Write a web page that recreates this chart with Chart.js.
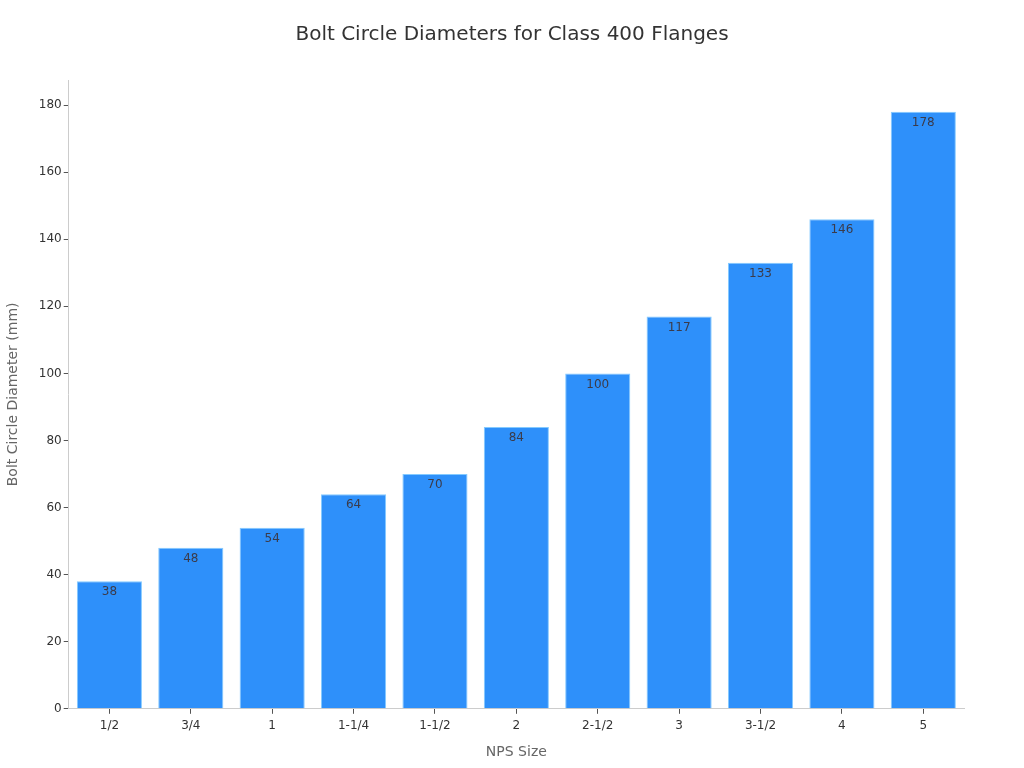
<!DOCTYPE html>
<html>
<head>
<meta charset="utf-8">
<script src="https://cdn.jsdelivr.net/npm/chart.js@4"></script>
<style>
  html, body { margin: 0; padding: 0; background: #fff; }
  #wrap { width: 1024px; height: 768px; }
</style>
</head>
<body>
<div id="wrap"><canvas id="bolt-chart"></canvas></div>
<script>
const sizes = ['1/2', '3/4', '1', '1-1/4', '1-1/2', '2', '2-1/2', '3', '3-1/2', '4', '5'];
const diameters = [38, 48, 54, 64, 70, 84, 100, 117, 133, 146, 178];
const yTicks = [0, 20, 40, 60, 80, 100, 120, 140, 160, 180];

Chart.defaults.font.family = "'DejaVu Sans', sans-serif";

// values written just under the top of each bar
const barLabels = {
    id: 'barLabels',
    afterDatasetsDraw(chart) {
        const ctx = chart.ctx;
        const meta = chart.getDatasetMeta(0);
        ctx.save();
        ctx.font = "12px 'DejaVu Sans', sans-serif";
        ctx.fillStyle = '#3b3b4a';
        ctx.textAlign = 'center';
        ctx.textBaseline = 'top';
        meta.data.forEach((bar, i) => {
            ctx.fillText(diameters[i], bar.x, bar.y + 5);
        });
        ctx.restore();
    }
};

const ctx = document.getElementById('bolt-chart').getContext('2d');
new Chart(ctx, {
    type: 'bar',
    data: {
        labels: sizes,
        datasets: [{
            data: diameters,
            backgroundColor: '#2e90fa',
            borderColor: '#84caff',
            borderWidth: 1,
            barPercentage: 1,
            categoryPercentage: 0.8
        }]
    },
    options: {
        responsive: true,
        maintainAspectRatio: false,
        animation: false,
        layout: { padding: { left: 0, right: 0, top: 13, bottom: 3 } },
        plugins: {
            legend: { display: false },
            tooltip: { enabled: false },
            title: {
                display: true,
                text: 'Bolt Circle Diameters for Class 400 Flanges',
                color: '#333',
                font: { size: 20, weight: 'normal' },
                padding: { top: 10, bottom: 33 }
            }
        },
        scales: {
            x: {
                grid: {
                    display: true,
                    offset: false,
                    drawOnChartArea: false,
                    tickLength: 5,
                    color: '#555'
                },
                border: { color: '#ccc' },
                ticks: { color: '#333', font: { size: 12 }, padding: 5 },
                title: {
                    display: true,
                    text: 'NPS Size',
                    color: '#666',
                    font: { size: 14 },
                    padding: { top: 6 }
                }
            },
            y: {
                min: 0,
                max: 187.5,
                grid: {
                    display: true,
                    drawOnChartArea: false,
                    tickLength: 5,
                    color: '#555'
                },
                border: { color: '#ccc' },
                afterBuildTicks: axis => {
                    axis.ticks = yTicks.map(v => ({ value: v }));
                },
                ticks: { color: '#333', font: { size: 12 }, padding: 2 },
                title: {
                    display: true,
                    text: 'Bolt Circle Diameter (mm)',
                    color: '#666',
                    font: { size: 14 },
                    padding: { top: 5, bottom: 15 }
                }
            },
            // empty right axis, only keeps the right margin
            yRight: {
                position: 'right',
                display: true,
                grid: { display: false },
                border: { display: false },
                ticks: { display: false },
                afterFit: axis => { axis.width = 60; }
            }
        }
    },
    plugins: [barLabels]
});
</script>
</body>
</html>
